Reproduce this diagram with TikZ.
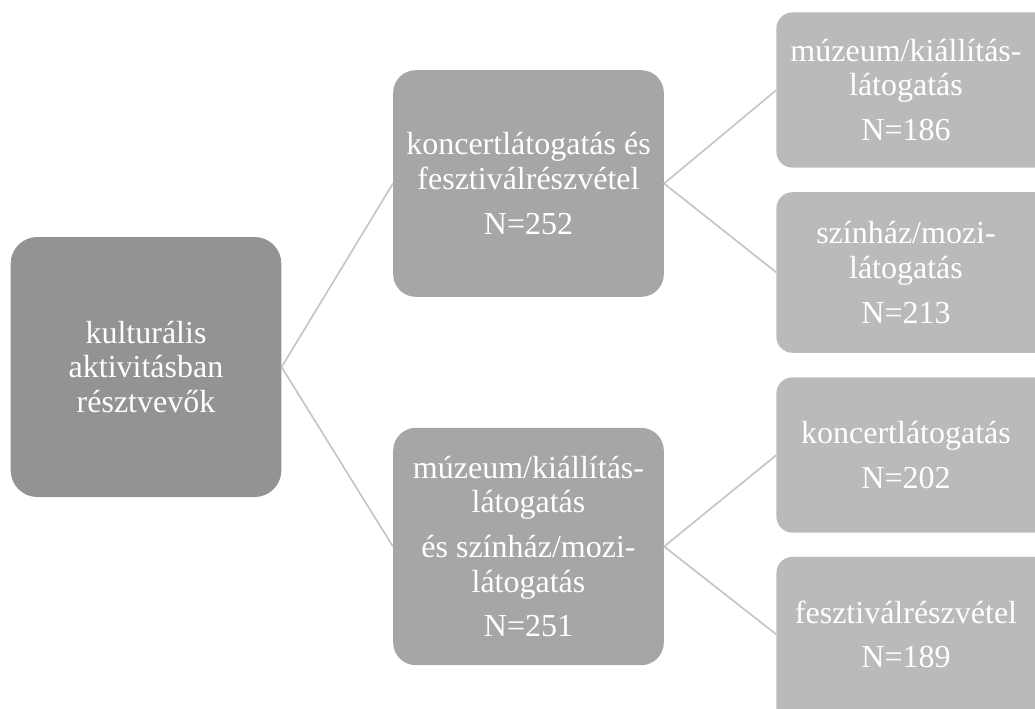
\documentclass[tikz,border=0pt]{standalone}
\usepackage{fontspec}
\setmainfont{Liberation Serif}
\usetikzlibrary{positioning,backgrounds}
\definecolor{rootgray}{HTML}{939393}
\definecolor{midgray}{HTML}{A6A6A6}
\definecolor{leafgray}{HTML}{BABABA}
\definecolor{linegray}{HTML}{C3C3C3}
\tikzset{
	box/.style={text=white, align=center, inner sep=0pt, font=\fontsize{24}{26}\selectfont},
	rootbox/.style={box, fill=rootgray, rounded corners=20pt, minimum width=203pt, minimum height=195pt},
	midbox/.style={box, fill=midgray, rounded corners=17pt, minimum width=203pt},
	leafbox/.style={box, minimum width=194pt, minimum height=116pt},
	link/.style={draw=linegray, line width=1.2pt}
}
\begin{document}
\begin{tikzpicture}[x=0.75pt, y=-0.75pt]
		\clip (0,0) rectangle (1035,708);
		\node[rootbox] (root) at (146,367) {kulturális\\aktivitásban\\résztvevők};
		\node[midbox, minimum height=170pt] (concert) at (528.5,183.5) {koncertlátogatás és\\fesztiválrészvétel\\[7.5pt]N=252};
		\node[midbox, minimum height=178pt] (museum) at (528.5,546.5) {múzeum/kiállítás-\\látogatás\\[7.5pt]és színház/mozi-\\látogatás\\[7.5pt]N=251};
		\node[leafbox] (museumA) at (906,90) {múzeum/kiállítás-\\látogatás\\[7.5pt]N=186};
		\node[leafbox, minimum height=120pt] (theatre) at (906,272.5) {színház/mozi-\\látogatás\\[7.5pt]N=213};
		\node[leafbox] (concertB) at (906,455) {koncertlátogatás\\[7.5pt]N=202};
		\node[leafbox] (festival) at (906,634.5) {fesztiválrészvétel\\[7.5pt]N=189};
		
		% leaf boxes run off the right and bottom edge
		\begin{scope}[on background layer]
			\foreach \leaf in {museumA,theatre,concertB}
				\fill[leafgray, rounded corners=12pt] (\leaf.south west) rectangle ([xshift=20pt]\leaf.north east);
			\fill[leafgray, rounded corners=12pt] ([yshift=-20pt]festival.south west) rectangle ([xshift=20pt]festival.north east);
		\end{scope}
		
		\draw[link] (concert.west) -- (root.east) -- (museum.west);
		\draw[link] (museumA.west) -- (concert.east) -- (theatre.west);
		\draw[link] (concertB.west) -- (museum.east) -- (festival.west);
	\end{tikzpicture}
\end{document}
